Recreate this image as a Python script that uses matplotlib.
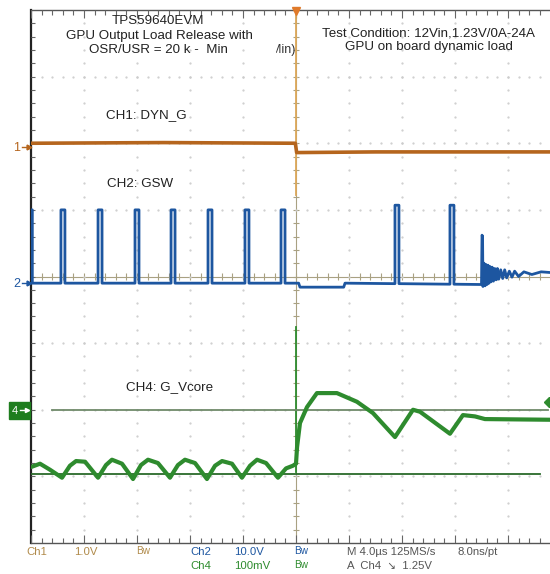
import matplotlib.pyplot as plt
import numpy as np
from matplotlib.collections import LineCollection
from matplotlib.patches import Rectangle

plt.rcParams['font.family'] = ['Liberation Sans', 'DejaVu Sans']

# time in us (4 us/div, trigger at 0), vertical in screen divisions (0..8)
ch1_t = [-20.0, -10.0, -0.05, 0.0, 0.05, 6.0, 19.2]
ch1_v = [6.00, 6.01, 6.00, 5.93, 5.86, 5.87, 5.87]

ch2_pulse_t = [-17.74, -14.94, -12.15, -9.43, -6.64, -3.85, -1.13, 7.47, 11.62]
ch2_pulse_top = [5.00, 5.00, 5.00, 5.00, 5.00, 5.00, 5.00, 5.07, 5.07]
ch2_pulse_w = 0.3
ch2_base_t = [-20.0, 0.2, 0.3, 3.6, 3.7, 13.9]
ch2_base_v = [3.90, 3.90, 3.84, 3.84, 3.90, 3.88]
ch2_ring_t = [14.00, 14.04, 14.08, 14.11, 14.19, 14.27, 14.34, 14.42, 14.49, 14.57,
              14.64, 14.72, 14.80, 14.90, 15.00, 15.10, 15.20, 15.30, 15.45, 15.60,
              15.75, 15.90, 16.10, 16.30, 16.50, 16.80, 17.20, 17.80, 18.50, 19.17]
ch2_ring_v = [3.88, 4.62, 4.60, 3.85, 4.20, 3.86, 4.18, 3.88, 4.17, 3.90,
              4.15, 3.92, 4.14, 3.93, 4.12, 3.95, 4.12, 3.96, 4.10, 3.97,
              4.10, 3.98, 4.08, 3.99, 4.08, 4.00, 4.07, 4.03, 4.07, 4.06]

ch4_t = [-20.0, -19.32, -18.57, -17.66, -17.06, -16.60, -15.92, -14.94, -14.34, -13.89,
         -13.13, -12.30, -11.70, -11.17, -10.42, -9.51, -8.91, -8.38, -7.62, -6.72,
         -6.11, -5.58, -4.83, -4.08, -3.47, -2.94, -2.26, -1.36, -0.75, -0.23,
         0.0, 0.08, 0.30, 0.83, 1.58, 3.09, 4.60, 5.81, 7.47, 8.83,
         9.36, 11.62, 12.60, 13.51, 14.26, 19.17]
ch4_v = [1.14, 1.19, 1.10, 0.98, 1.16, 1.23, 1.22, 0.98, 1.17, 1.25,
         1.19, 0.96, 1.17, 1.25, 1.20, 0.98, 1.17, 1.25, 1.20, 0.96,
         1.16, 1.23, 1.19, 0.98, 1.16, 1.25, 1.20, 0.98, 1.12, 1.16,
         1.19, 1.44, 1.80, 2.04, 2.25, 2.25, 2.12, 1.95, 1.59, 2.00,
         1.97, 1.64, 1.92, 1.90, 1.86, 1.85]

cursor_hi = 2.00
cursor_lo = 1.04

c_ch1 = '#b5651d'
c_ch2 = '#1d56a0'
c_ch4 = '#2e8b2e'
c_grid = '#a9a182'


def main():
    fig = plt.figure(figsize=(5.5, 5.74), dpi=100)
    ax = fig.add_axes([31 / 550, 31 / 574, 519 / 550, 533 / 574])
    xmax = -20 + 519 / 53 * 4
    ax.set_xlim(-20, xmax)
    ax.set_ylim(0, 8)
    ax.axis('off')

    # dotted graticule
    for k in range(1, 10):
        if k == 5:
            continue
        yy = np.arange(0.2, 8, 0.2)
        ax.plot(np.full_like(yy, -20 + 4 * k), yy, ls='none', marker='.', ms=1.2, color='#cccccc')
    for k in range(1, 8):
        if k == 4:
            continue
        xx = np.arange(-19.2, xmax, 0.8)
        ax.plot(xx, np.full_like(xx, k), ls='none', marker='.', ms=1.2, color='#cccccc')

    # center crosshair with ticks
    ax.axvline(0, color=c_grid, lw=0.8, zorder=1)
    ax.axhline(4, color=c_grid, lw=0.8, zorder=1)
    segs = []
    for y in np.arange(0.2, 8, 0.2):
        segs.append([(-0.25, y), (0.25, y)])
    for x in np.arange(-19.2, xmax, 0.8):
        segs.append([(x, 3.94), (x, 4.06)])
    ax.add_collection(LineCollection(segs, colors=c_grid, lw=0.8, zorder=1))

    # frame and edge ticks
    ax.plot([-20, -20], [0, 8], color='#222222', lw=1.6, clip_on=False)
    ax.plot([-20, xmax], [8, 8], color='#555555', lw=1.0, clip_on=False)
    ax.plot([-20, xmax], [0, 0], color='#555555', lw=1.0, clip_on=False)
    segs = []
    for i, x in enumerate(np.arange(-20, xmax, 0.8)):
        ln = 0.12 if i % 5 == 0 else 0.07
        segs.append([(x, 8), (x, 8 - ln)])
        segs.append([(x, 0), (x, ln)])
    for y in np.arange(0.2, 8, 0.2):
        segs.append([(-20, y), (-19.7, y)])
    ax.add_collection(LineCollection(segs, colors='#666666', lw=0.8))

    # trigger / cursor lines
    ax.plot([0, 0], [8, 5.22], color='#dca85a', lw=1.3, zorder=2)
    ax.plot([0, 0], [3.24, 1.07], color=c_ch4, lw=1.3, zorder=2)
    ax.plot([-18.4, 19.0], [cursor_hi, cursor_hi], color='#6f8a6a', lw=1.3, zorder=2)
    ax.plot([-20, 18.4], [cursor_lo, cursor_lo], color='#2a6a2a', lw=1.3, zorder=2)

    # ch1
    ax.plot(ch1_t, ch1_v, color=c_ch1, lw=2.6, zorder=3)

    # ch2 built from baseline + pulses
    pts = [(-20.0, 5.0), (-19.9, 5.0), (-19.9, 3.9)]
    pts += [(t, v) for t, v in zip(ch2_base_t, ch2_base_v) if t > -19.9]
    for t0, top in zip(ch2_pulse_t, ch2_pulse_top):
        b = np.interp(t0, ch2_base_t, ch2_base_v)
        pts += [(t0, b), (t0, top), (t0 + ch2_pulse_w, top), (t0 + ch2_pulse_w, b)]
    pts = sorted(pts, key=lambda p: p[0])
    pts += list(zip(ch2_ring_t, ch2_ring_v))
    t2, v2 = zip(*pts)
    ax.plot(t2, v2, color=c_ch2, lw=2.0, zorder=3)

    # ch4
    ax.plot(ch4_t, ch4_v, color=c_ch4, lw=3.0, zorder=3)

    # overlay in pixel coords for labels
    ov = fig.add_axes([0, 0, 1, 1], facecolor='none')
    ov.set_xlim(0, 550)
    ov.set_ylim(574, 0)
    ov.axis('off')

    fs = 9.6
    ov.text(158, 21, 'TPS59640EVM', ha='center', va='center', fontsize=fs, color='#222222')
    ov.text(159, 36, 'GPU Output Load Release with', ha='center', va='center', fontsize=fs, color='#222222')
    ov.text(158, 50, 'OSR/USR = 20 k -  Min', ha='center', va='center', fontsize=fs, color='#222222')
    ov.text(271, 50, 'Min)', ha='left', va='center', fontsize=fs - 0.6, color='#333333')
    ov.add_patch(Rectangle((266, 42), 9, 16, color='white', zorder=5))
    ov.text(428, 33, 'Test Condition: 12Vin,1.23V/0A-24A', ha='center', va='center', fontsize=fs, color='#222222')
    ov.text(429, 47, 'GPU on board dynamic load', ha='center', va='center', fontsize=fs, color='#222222')
    ov.text(146, 115, 'CH1: DYN_G', ha='center', va='center', fontsize=fs, color='#222222')
    ov.text(140, 184, 'CH2: GSW', ha='center', va='center', fontsize=fs, color='#222222')
    ov.text(170, 387, 'CH4: G_Vcore', ha='center', va='center', fontsize=fs, color='#222222')

    # channel markers
    ov.text(17, 148, '1', ha='center', va='center', fontsize=9, color=c_ch1)
    ov.plot([22, 29], [147, 147], color=c_ch1, lw=1)
    ov.plot([29], [147], marker='>', ms=3.5, color=c_ch1)
    ov.text(17, 284, '2', ha='center', va='center', fontsize=9, color=c_ch2)
    ov.plot([22, 29], [283, 283], color=c_ch2, lw=1)
    ov.plot([29], [283], marker='>', ms=3.5, color=c_ch2)
    ov.add_patch(Rectangle((9, 402), 21, 17, color='#1e7d1e', zorder=4))
    ov.text(15, 411, '4', ha='center', va='center', fontsize=8, color='white', zorder=5)
    ov.plot([20, 27], [410, 410], color='white', lw=1, zorder=5)
    ov.plot([27], [410], marker='>', ms=3, color='white', zorder=5)
    ov.plot([296], [11], marker='v', ms=6, color='#e07a2a', clip_on=False)
    ov.plot([549], [402], marker='D', ms=5, color=c_ch4)

    # bottom readout
    bf = dict(fontsize=8.2, va='center', ha='left', stretch='condensed')
    c_t = '#b08a4a'
    ov.text(26, 552, 'Ch1', color=c_t, **bf)
    ov.text(74, 552, '1.0V', color=c_t, **bf)
    ov.text(136, 551, 'Bw', color=c_t, fontsize=7.2, va='center', ha='left')
    ov.text(190, 552, 'Ch2', color=c_ch2, **bf)
    ov.text(234, 552, '10.0V', color=c_ch2, **bf)
    ov.text(294, 551, 'Bw', color=c_ch2, fontsize=7.2, va='center', ha='left')
    ov.text(347, 552, 'M 4.0µs 125MS/s', color='#555555', **bf)
    ov.text(458, 552, '8.0ns/pt', color='#555555', **bf)
    ov.text(190, 566, 'Ch4', color=c_ch4, **bf)
    ov.text(234, 566, '100mV', color=c_ch4, **bf)
    ov.text(294, 565, 'Bw', color=c_ch4, fontsize=7.2, va='center', ha='left')
    ov.text(347, 566, 'A  Ch4  ↘  1.25V', color='#555555', **bf)

    fig.savefig('out.png', dpi=100, facecolor='white')


if __name__ == '__main__':
    main()
